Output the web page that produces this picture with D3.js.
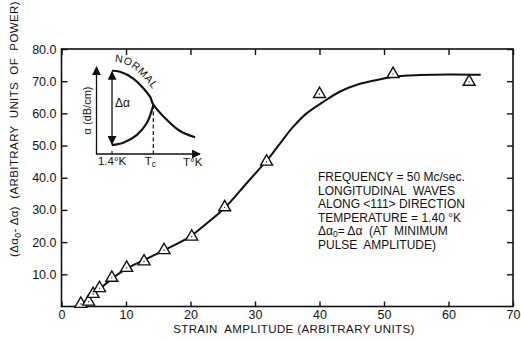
<!DOCTYPE html>
<html>
<head>
<meta charset="utf-8">
<script src="https://cdn.jsdelivr.net/npm/d3@7"></script>
<style>
  html, body { margin: 0; padding: 0; background: #fff; }
  svg { display: block; font-family: "Liberation Sans", Arial, sans-serif; }
  .tick text { font-family: "Liberation Sans", Arial, sans-serif; }
  .pre { white-space: pre; }
</style>
</head>
<body>
<svg id="chart" width="521" height="341"></svg>
<script>
// Measured points: strain amplitude vs. (Δα0 − Δα)
const strain = [3.0, 4.2, 4.9, 5.9, 7.8, 10.1, 12.8, 15.9, 20.2, 25.3, 31.8, 40.0, 51.4, 63.2];
const power  = [0.8, 1.5, 3.9, 5.7, 8.9, 12.0, 14.0, 17.5, 21.7, 30.8, 45.0, 66.0, 72.2, 69.8];

// Smooth trend curve drawn through the measurements
const fitX = [2.6, 4, 6, 8, 10, 13, 16, 20, 22.5, 25.3, 28.7, 31.8, 33.9, 35.9, 38, 40.6, 43.2, 45.8, 49.4, 51.4, 55.6, 60, 65];
const fitY = [0, 2.2, 5.6, 8.9, 11.7, 14.6, 17.6, 21.8, 25.8, 30.6, 38.3, 45.3, 50.7, 55.8, 60, 63.6, 66.8, 68.9, 70.6, 71.4, 71.9, 72.1, 72.0];

const xTicks = [0, 10, 20, 30, 40, 50, 60, 70];
const yTicks = [10, 20, 30, 40, 50, 60, 70, 80];

// Inset sketch: attenuation vs temperature (schematic units 0–10)
const normalT = [1.5, 2.27, 3.53, 5.17, 5.46, 6.81, 8.07, 9.52];
const normalA = [9.57, 9.46, 8.70, 6.59, 5.75, 3.91, 2.64, 1.92];
const superT  = [1.47, 2.59, 3.88, 4.85, 5.49];
const superA  = [1.03, 1.30, 2.18, 3.53, 5.63];
const tLow = 1.5, tC = 5.49;

const notes = [
  "FREQUENCY = 50 Mc/sec.",
  "LONGITUDINAL  WAVES",
  "ALONG <111> DIRECTION",
  "TEMPERATURE = 1.40 °K",
  null, // Δα0 line, built with a subscript below
  "PULSE  AMPLITUDE)"
];

const svg = d3.select("#chart");
const ink = "#111";

const x = d3.scaleLinear().domain([0, 70]).range([61.5, 513]);
const y = d3.scaleLinear().domain([0, 80]).range([306.5, 49]);

// Frame
svg.append("rect")
  .attr("x", x(0)).attr("y", y(80))
  .attr("width", x(70) - x(0)).attr("height", y(0) - y(80))
  .attr("fill", "none").attr("stroke", ink).attr("stroke-width", 1.6);

function styleAxis(g, showText) {
  g.select(".domain").remove();
  g.selectAll(".tick line").attr("stroke", ink).attr("stroke-width", 1.4);
  g.selectAll(".tick text").attr("fill", ink).attr("font-size", 12.5);
  if (!showText) g.selectAll(".tick text").remove();
}

svg.append("g").attr("transform", `translate(0,${y(0)})`)
  .call(d3.axisBottom(x).tickValues(xTicks).tickSize(-5).tickPadding(4).tickFormat(d3.format("d")))
  .call(g => styleAxis(g, true));
svg.append("g").attr("transform", `translate(0,${y(80)})`)
  .call(d3.axisTop(x).tickValues(xTicks).tickSize(-6).tickFormat(""))
  .call(g => styleAxis(g, false));
svg.append("g").attr("transform", `translate(${x(0)},0)`)
  .call(d3.axisLeft(y).tickValues(yTicks).tickSize(-6).tickPadding(5).tickFormat(d3.format(".1f")))
  .call(g => styleAxis(g, true));
svg.append("g").attr("transform", `translate(${x(70)},0)`)
  .call(d3.axisRight(y).tickValues(yTicks).tickSize(-6).tickFormat(""))
  .call(g => styleAxis(g, false));

// Axis titles
svg.append("text").attr("class", "pre")
  .attr("x", 294).attr("y", 333)
  .attr("text-anchor", "middle").attr("font-size", 11.5).attr("fill", ink)
  .attr("letter-spacing", 0.4)
  .text("STRAIN  AMPLITUDE (ARBITRARY UNITS)");

const yTitle = svg.append("text").attr("class", "pre")
  .attr("transform", "translate(18,129) rotate(-90)")
  .attr("text-anchor", "middle").attr("font-size", 11.5).attr("fill", ink)
  .attr("letter-spacing", 0.4);
yTitle.append("tspan").text("(Δα");
yTitle.append("tspan").attr("dy", 2.5).attr("font-size", 8.5).text("0");
yTitle.append("tspan").attr("dy", -2.5).text("- Δα)  (ARBITRARY  UNITS  OF  POWER)");

// Trend curve
const fit = fitX.map((v, i) => [v, fitY[i]]);
svg.append("path")
  .datum(fit)
  .attr("fill", "none").attr("stroke", ink).attr("stroke-width", 2)
  .attr("d", d3.line().x(d => x(d[0])).y(d => y(d[1])).curve(d3.curveCatmullRom.alpha(0.5)));

// Triangle markers
const tri = d3.symbol().type(d3.symbolTriangle).size(62);
const pts = svg.append("g").selectAll("g")
  .data(strain.map((v, i) => [v, power[i]]))
  .join("g")
  .attr("transform", d => `translate(${x(d[0])},${y(d[1])})`);
pts.append("path").attr("d", tri)
  .attr("fill", "#fff").attr("stroke", ink).attr("stroke-width", 1.4).attr("stroke-linejoin", "miter");
pts.append("circle").attr("r", 0.7).attr("fill", ink);

// Notes block
const notesG = svg.append("g").attr("font-size", 12).attr("fill", ink);
notes.forEach((t, i) => {
  const ty = 181 + i * 13.5;
  if (t !== null) {
    notesG.append("text").attr("class", "pre").attr("x", 318).attr("y", ty).text(t);
  } else {
    const line = notesG.append("text").attr("class", "pre").attr("x", 318).attr("y", ty);
    line.append("tspan").text("Δα");
    line.append("tspan").attr("dy", 2).attr("font-size", 8.5).text("0");
    line.append("tspan").attr("dy", -2).text("= Δα  (AT  MINIMUM");
  }
});

// ---- Inset sketch ----
const ix = d3.scaleLinear().domain([0, 10]).range([96.5, 200]);
const iy = d3.scaleLinear().domain([0, 10]).range([154, 67]);

const defs = svg.append("defs");
defs.append("marker")
  .attr("id", "arrow").attr("viewBox", "0 0 10 10")
  .attr("refX", 9).attr("refY", 5)
  .attr("markerWidth", 9).attr("markerHeight", 9)
  .attr("markerUnits", "userSpaceOnUse")
  .attr("orient", "auto-start-reverse")
  .append("path").attr("d", "M0,0 L10,5 L0,10 z").attr("fill", ink);

const inset = svg.append("g");
// L-shaped axes with arrow heads
inset.append("path")
  .attr("d", `M${ix(0)},${iy(10)} L${ix(0)},${iy(0)} L${ix(10)},${iy(0)}`)
  .attr("fill", "none").attr("stroke", ink).attr("stroke-width", 1.3)
  .attr("marker-start", "url(#arrow)").attr("marker-end", "url(#arrow)");

// Tick at 1.4°K
inset.append("line")
  .attr("x1", ix(tLow)).attr("x2", ix(tLow)).attr("y1", iy(0)).attr("y2", iy(0) - 3)
  .attr("stroke", ink).attr("stroke-width", 1.2);

const iline = d3.line().x(d => ix(d[0])).y(d => iy(d[1])).curve(d3.curveCatmullRom.alpha(0.5));
const normalPts = normalT.map((v, i) => [v, normalA[i]]);
const superPts = superT.map((v, i) => [v, superA[i]]);

inset.append("path").datum(normalPts).attr("d", iline)
  .attr("fill", "none").attr("stroke", ink).attr("stroke-width", 2.2);
inset.append("path").datum(superPts).attr("d", iline)
  .attr("fill", "none").attr("stroke", ink).attr("stroke-width", 2.2);

// Dashed line at Tc
inset.append("line")
  .attr("x1", ix(tC)).attr("x2", ix(tC)).attr("y1", iy(superA[superA.length - 1])).attr("y2", iy(0))
  .attr("stroke", ink).attr("stroke-width", 1.2).attr("stroke-dasharray", "4,2.5");

// Δα double arrow between the two branches at 1.4°K
inset.append("line")
  .attr("x1", ix(tLow)).attr("x2", ix(tLow))
  .attr("y1", iy(normalA[0]) + 1).attr("y2", iy(superA[0]) - 1)
  .attr("stroke", ink).attr("stroke-width", 1.3)
  .attr("marker-start", "url(#arrow)").attr("marker-end", "url(#arrow)");
inset.append("text")
  .attr("x", ix(tLow) + 3).attr("y", iy(5.4))
  .attr("font-size", 12).attr("fill", ink).text("Δα");

// "NORMAL" written along the upper branch
const normalShift = normalPts.map(d => [d[0] + 0.15, d[1] + 1.0]);
defs.append("path").attr("id", "normalPath").attr("d", iline(normalShift));
inset.append("text").attr("font-size", 10.5).attr("fill", ink).attr("letter-spacing", 0.6)
  .append("textPath").attr("href", "#normalPath").attr("startOffset", 1)
  .text("NORMAL");

// Inset axis labels
inset.append("text")
  .attr("transform", `translate(${ix(0) - 6},${iy(5.0)}) rotate(-90)`)
  .attr("text-anchor", "middle").attr("font-size", 11).attr("fill", ink)
  .text("α (dB/cm)");
inset.append("text").attr("x", ix(tLow)).attr("y", 165)
  .attr("text-anchor", "middle").attr("font-size", 11.5).attr("fill", ink).text("1.4°K");
const tcLabel = inset.append("text").attr("x", ix(tC) - 3).attr("y", 165)
  .attr("text-anchor", "middle").attr("font-size", 11.5).attr("fill", ink);
tcLabel.append("tspan").text("T");
tcLabel.append("tspan").attr("dy", 2).attr("font-size", 8.5).text("c");
inset.append("text").attr("x", ix(9.3)).attr("y", 166)
  .attr("text-anchor", "middle").attr("font-size", 11.5).attr("fill", ink).text("T°K");
</script>
</body>
</html>
